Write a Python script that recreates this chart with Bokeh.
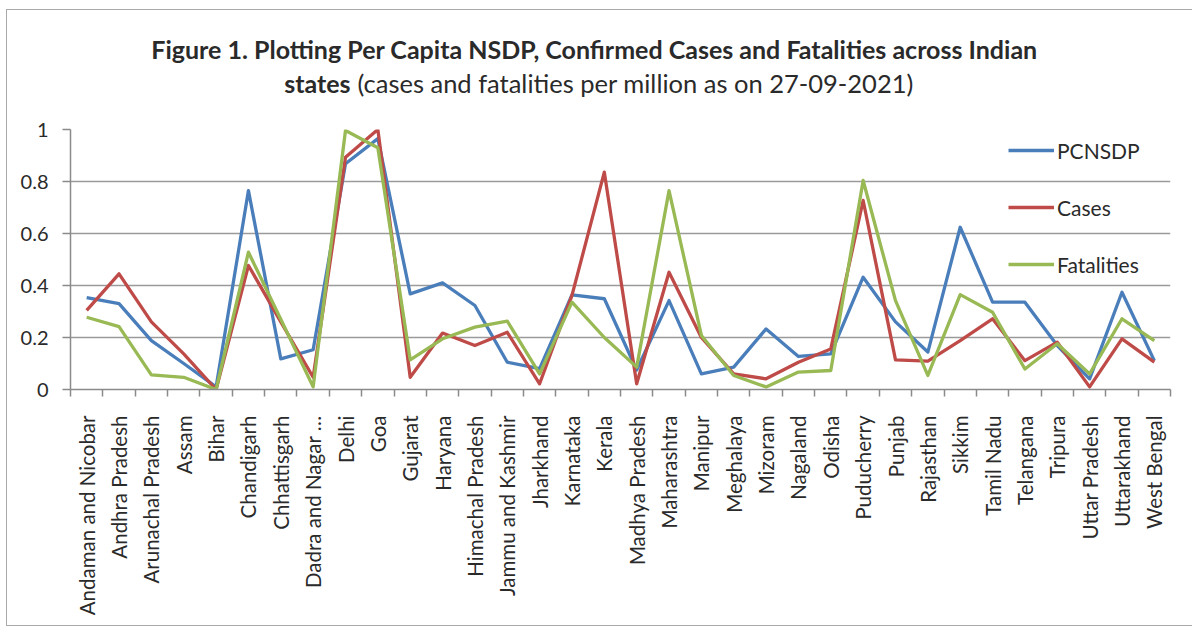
import math
from bokeh.plotting import figure
from bokeh.models import (Range1d, FixedTicker, Label, Legend, LegendItem,
                          ColumnDataSource)
from bokeh.layouts import column
from bokeh.embed import file_html
from bokeh.resources import INLINE

states = ["Andaman and Nicobar", "Andhra Pradesh", "Arunachal Pradesh", "Assam",
          "Bihar", "Chandigarh", "Chhattisgarh", "Dadra and Nagar \u2026", "Delhi",
          "Goa", "Gujarat", "Haryana", "Himachal Pradesh", "Jammu and Kashmir",
          "Jharkhand", "Karnataka", "Kerala", "Madhya Pradesh", "Maharashtra",
          "Manipur", "Meghalaya", "Mizoram", "Nagaland", "Odisha", "Puducherry",
          "Punjab", "Rajasthan", "Sikkim", "Tamil Nadu", "Telangana", "Tripura",
          "Uttar Pradesh", "Uttarakhand", "West Bengal"]

pcnsdp = [0.353, 0.33, 0.188, 0.10, 0.01, 0.765, 0.118, 0.153, 0.868, 0.965,
          0.368, 0.41, 0.323, 0.105, 0.08, 0.364, 0.349, 0.075, 0.342, 0.06,
          0.086, 0.233, 0.127, 0.137, 0.432, 0.26, 0.144, 0.624, 0.336, 0.336,
          0.169, 0.041, 0.374, 0.111]
cases = [0.304, 0.445, 0.26, 0.137, 0.0, 0.477, 0.26, 0.047, 0.893, 1.0,
         0.047, 0.217, 0.169, 0.22, 0.022, 0.362, 0.836, 0.022, 0.451, 0.2,
         0.06, 0.041, 0.105, 0.156, 0.727, 0.114, 0.109, 0.188, 0.272, 0.111,
         0.182, 0.01, 0.195, 0.105]
fatalities = [0.278, 0.242, 0.056, 0.047, 0.0, 0.528, 0.27, 0.01, 0.996, 0.93,
              0.114, 0.195, 0.24, 0.263, 0.06, 0.336, 0.2, 0.086, 0.765, 0.208,
              0.054, 0.01, 0.067, 0.073, 0.804, 0.342, 0.054, 0.365, 0.297, 0.079,
              0.176, 0.06, 0.272, 0.188]

series_names = ["PCNSDP", "Cases", "Fatalities"]
y_ticks = [0, 0.2, 0.4, 0.6, 0.8, 1]
y_tick_labels = ["0", "0.2", "0.4", "0.6", "0.8", "1"]

title_line1 = "Figure 1. Plotting Per Capita NSDP, Confirmed Cases and Fatalities across Indian"
title_line2_bold = "states"
title_line2_rest = "(cases and fatalities per million as on 27-09-2021)"

FONT = "Lato"
TXT = "#2a2a2a"
colors = ["#4A7EBB", "#BE4B48", "#98B954"]

# page offsets: border at x=6, y=9 (1px) -> content starts at (7, 10)
OX, OY = 7, 10
TITLE_H = 100
FULL_W = 1192 - OX
FRAME_L, FRAME_R = 70, 1170     # canvas x of the plotting frame

# ---------------- title strip (data x == page x, data y == page y - OY) ----------------
t = figure(width=FULL_W, height=TITLE_H, output_backend="svg", toolbar_location=None,
           x_range=Range1d(FRAME_L, FRAME_R), y_range=Range1d(TITLE_H, 0),
           x_axis_type=None, y_axis_type=None,
           min_border_left=FRAME_L - OX, min_border_right=1192 - FRAME_R,
           min_border_top=0, min_border_bottom=0)
t.grid.visible = False
t.outline_line_color = None
t.border_fill_color = "white"
t.add_layout(Label(x=594, y=48 - OY, text=title_line1, text_font=FONT,
                   text_font_style="bold", text_font_size="25px", text_align="center",
                   text_baseline="middle", text_color=TXT))
t.add_layout(Label(x=350, y=82 - OY, text=title_line2_bold, text_font=FONT,
                   text_font_style="bold", text_font_size="25px", text_align="right",
                   text_baseline="middle", text_color=TXT))
t.add_layout(Label(x=357, y=82 - OY, text=title_line2_rest, text_font=FONT,
                   text_font_style="normal", text_font_size="25.5px", text_align="left",
                   text_baseline="middle", text_color=TXT))

# ---------------- chart ----------------
idx = list(range(len(states)))
src = ColumnDataSource(dict(x=idx, pcnsdp=pcnsdp, cases=cases, fatalities=fatalities))

CH_TOP = OY + TITLE_H          # canvas y where chart figure starts
CH_H = 625 - CH_TOP
p = figure(width=FULL_W, height=CH_H, output_backend="svg", toolbar_location=None,
           x_range=Range1d(-0.5, len(states) - 0.5), y_range=Range1d(0, 1),
           min_border_left=FRAME_L - OX, min_border_right=1192 - FRAME_R,
           min_border_top=129 - CH_TOP, min_border_bottom=625 - 389)
p.outline_line_color = None
p.background_fill_color = "white"
p.border_fill_color = "white"

renderers = []
for col, c in zip(["pcnsdp", "cases", "fatalities"], colors):
    r = p.line("x", col, source=src, line_color=c, line_width=3.3, line_join="round")
    renderers.append(r)

xa = p.xaxis[0]
xa.ticker = FixedTicker(ticks=idx, minor_ticks=[i - 0.5 for i in range(len(states) + 1)])
xa.major_label_overrides = {i: s for i, s in enumerate(states)}
xa.major_label_orientation = math.pi / 2
xa.major_tick_line_color = None
xa.major_tick_out = 0
xa.major_tick_in = 0
xa.minor_tick_line_color = "#8a8a8a"
xa.minor_tick_line_width = 1.5
xa.minor_tick_out = 7
xa.minor_tick_in = 0
xa.axis_line_color = "#8a8a8a"
xa.axis_line_width = 1.5
xa.major_label_standoff = 19
xa.major_label_text_font = FONT
xa.major_label_text_font_size = "20.5px"
xa.major_label_text_color = TXT

ya = p.yaxis[0]
ya.ticker = FixedTicker(ticks=y_ticks)
ya.major_label_overrides = {tk: lb for tk, lb in zip(y_ticks, y_tick_labels)}
ya.minor_tick_line_color = None
ya.major_tick_line_color = "#8a8a8a"
ya.major_tick_line_width = 1.5
ya.major_tick_out = 8
ya.major_tick_in = 0
ya.axis_line_color = "#8a8a8a"
ya.axis_line_width = 1.5
ya.major_label_standoff = 14
ya.major_label_text_font = FONT
ya.major_label_text_font_size = "20px"
ya.major_label_text_color = TXT

p.xgrid.grid_line_color = None
p.ygrid.ticker = FixedTicker(ticks=y_ticks)
p.ygrid.grid_line_color = "#9a9a9a"
p.ygrid.grid_line_width = 1.5

legend = Legend(items=[LegendItem(label=n, renderers=[r]) for n, r in zip(series_names, renderers)],
                location=(938, 110), orientation="vertical",
                glyph_width=46, glyph_height=30, label_height=30, spacing=27,
                padding=0, margin=0, label_standoff=3,
                border_line_color=None, background_fill_alpha=0,
                label_text_font=FONT, label_text_font_size="21px",
                label_text_color=TXT)
p.add_layout(legend, "center")

layout = column(t, p, spacing=0,
                styles={"margin-left": "6px", "margin-top": "9px",
                        "border-left": "1px solid #a8a8a8",
                        "border-top": "1px solid #a8a8a8",
                        "border-bottom": "1px solid #a8a8a8"})

open("out.html", "w").write(file_html(layout, INLINE))
